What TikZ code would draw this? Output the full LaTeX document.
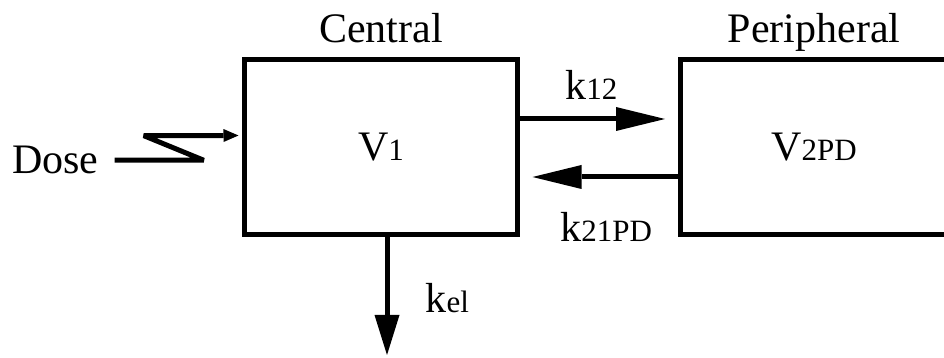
\documentclass[tikz,border=0pt]{standalone}
\usepackage{fontspec}
\setmainfont{Liberation Serif}
\usetikzlibrary{arrows.meta,positioning}
\newcommand{\smalltxt}[1]{{\fontsize{31}{31}\selectfont #1}}
\tikzset{
	compartment/.style={draw,line width=5pt,outer sep=0pt,minimum height=175pt,font=\fontsize{42}{42}\selectfont},
	title/.style={inner sep=0pt,text depth=0pt,font=\fontsize{42}{42}\selectfont},
	flow/.style={line width=5pt,-{Triangle[length=49pt,width=24pt,line width=0pt]}},
}
\begin{document}
\begin{tikzpicture}[x=1pt,y=1pt]
	\clip (0,0) rectangle (944,358);
	\node[compartment,minimum width=273pt] (central) at (381,211) {V\smalltxt{1}};
	\node[compartment,minimum width=268pt,right=162.5pt of central] (peripheral) {V\smalltxt{2PD}};
	\node[title,above=17pt of central] (centrallabel) {Central};
	\node[title,above=17pt of peripheral] (periphlabel) {Peripheral};
	\node[title,anchor=base west] (dose) at (12,184) {Dose};
	\coordinate (elim) at (387,3);
	\draw[flow] ([yshift=28pt]central.east) -- node[title,above=17pt] {k\smalltxt{12}} ([xshift=-15pt,yshift=28pt]peripheral.west);
	\draw[flow] ([yshift=-30pt]peripheral.west) -- node[title,below=33pt] {k\smalltxt{21PD}} ([xshift=15pt,yshift=-30pt]central.east);
	\draw[flow,-{Triangle[length=40pt,width=25pt,line width=0pt]}] ([xshift=6pt]central.south) -- node[title,pos=0.53,right=36pt] {k\smalltxt{el}} (elim);
	\draw[line width=5pt,line join=bevel,-{Triangle[length=15pt,width=13pt,line width=0pt]}] ([xshift=16pt]dose.east) -- ++(89,0) -- ++(-60,24.6) -- ([xshift=-6pt,yshift=11.5pt]central.west);
\end{tikzpicture}
\end{document}
